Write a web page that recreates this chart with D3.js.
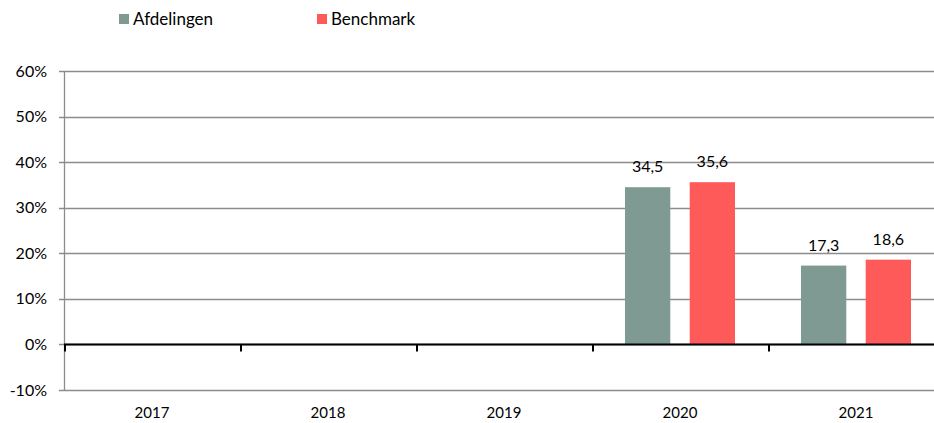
<!DOCTYPE html>
<html>
<head>
<meta charset="utf-8">
<script src="https://cdn.jsdelivr.net/npm/d3@7"></script>
<style>
  body { margin: 0; background: #fff; }
  svg { display: block; font-family: Lato, "Open Sans", sans-serif; }
</style>
</head>
<body>
<div id="chart"></div>
<script>
const years = ["2017", "2018", "2019", "2020", "2021"];
const seriesNames = ["Afdelingen", "Benchmark"];
const afdelingen = [null, null, null, 34.5, 17.3];
const benchmark = [null, null, null, 35.6, 18.6];
const yTicks = [-10, 0, 10, 20, 30, 40, 50, 60];
const colors = ["#7f9993", "#fe5a5a"];

const width = 934, height = 423;
const margin = { top: 71, right: -10, bottom: 33, left: 64 };
const w = width - margin.left - margin.right;
const h = height - margin.top - margin.bottom;

const svg = d3.select("#chart").append("svg")
  .attr("width", width)
  .attr("height", height);

const g = svg.append("g")
  .attr("transform", `translate(${margin.left},${margin.top})`);

const x = d3.scaleBand().domain(years).range([0, w]);
const xInner = d3.scaleBand().domain(seriesNames).range([33, x.bandwidth() - 33]).paddingInner(0.3);
const y = d3.scaleLinear().domain([-10, 60]).range([h, 0]);

// gridlines
g.selectAll(".grid")
  .data(yTicks)
  .join("line")
  .attr("x1", -5)
  .attr("x2", w)
  .attr("y1", d => Math.round(y(d)) + 0.5)
  .attr("y2", d => Math.round(y(d)) + 0.5)
  .attr("stroke", "#8c8c8c")
  .attr("stroke-width", 1.3);

// y axis line
g.append("line")
  .attr("x1", 0.5).attr("x2", 0.5)
  .attr("y1", y(60)).attr("y2", y(-10))
  .attr("stroke", "#8c8c8c")
  .attr("stroke-width", 1.3);

// y labels
g.selectAll(".ylab")
  .data(yTicks)
  .join("text")
  .attr("x", -17)
  .attr("y", d => y(d))
  .attr("dy", "0.35em")
  .attr("text-anchor", "end")
  .attr("font-size", 16)
  .attr("fill", "#000")
  .text(d => d + "%");

// bars
const rows = years.map((yr, i) => ({ year: yr, values: [afdelingen[i], benchmark[i]] }));
const groups = g.selectAll(".year")
  .data(rows)
  .join("g")
  .attr("transform", d => `translate(${x(d.year)},0)`);

groups.selectAll("rect")
  .data(d => d.values.map((v, j) => ({ name: seriesNames[j], v, j })).filter(d => d.v !== null))
  .join("rect")
  .attr("x", d => xInner(d.name))
  .attr("width", xInner.bandwidth())
  .attr("y", d => y(d.v))
  .attr("height", d => y(0) - y(d.v))
  .attr("fill", d => colors[d.j]);

groups.selectAll(".val")
  .data(d => d.values.map((v, j) => ({ name: seriesNames[j], v, j })).filter(d => d.v !== null))
  .join("text")
  .attr("x", d => xInner(d.name) + xInner.bandwidth() / 2)
  .attr("y", d => y(d.v) - 15)
  .attr("text-anchor", "middle")
  .attr("font-size", 16)
  .attr("fill", "#000")
  .text(d => d.v.toFixed(1).replace(".", ","));

// zero axis
g.append("line")
  .attr("x1", 0).attr("x2", w)
  .attr("y1", y(0)).attr("y2", y(0))
  .attr("stroke", "#000")
  .attr("stroke-width", 2);

g.selectAll(".xtick")
  .data(years)
  .join("line")
  .attr("x1", d => x(d) + 1)
  .attr("x2", d => x(d) + 1)
  .attr("y1", y(0))
  .attr("y2", y(0) + 7)
  .attr("stroke", "#000")
  .attr("stroke-width", 2);

// x labels
g.selectAll(".xlab")
  .data(years)
  .join("text")
  .attr("x", d => x(d) + x.bandwidth() / 2)
  .attr("y", h + 28)
  .attr("text-anchor", "middle")
  .attr("font-size", 15)
  .attr("fill", "#000")
  .text(d => d);

// legend
const legendX = [119, 317];
const legend = svg.selectAll(".legend")
  .data(seriesNames)
  .join("g")
  .attr("transform", (d, i) => `translate(${legendX[i]},14)`);
legend.append("rect")
  .attr("width", 10).attr("height", 10)
  .attr("fill", (d, i) => colors[i]);
legend.append("text")
  .attr("x", 14)
  .attr("y", 5)
  .attr("dy", "0.35em")
  .attr("font-size", 17)
  .attr("fill", "#000")
  .text(d => d);
</script>
</body>
</html>
